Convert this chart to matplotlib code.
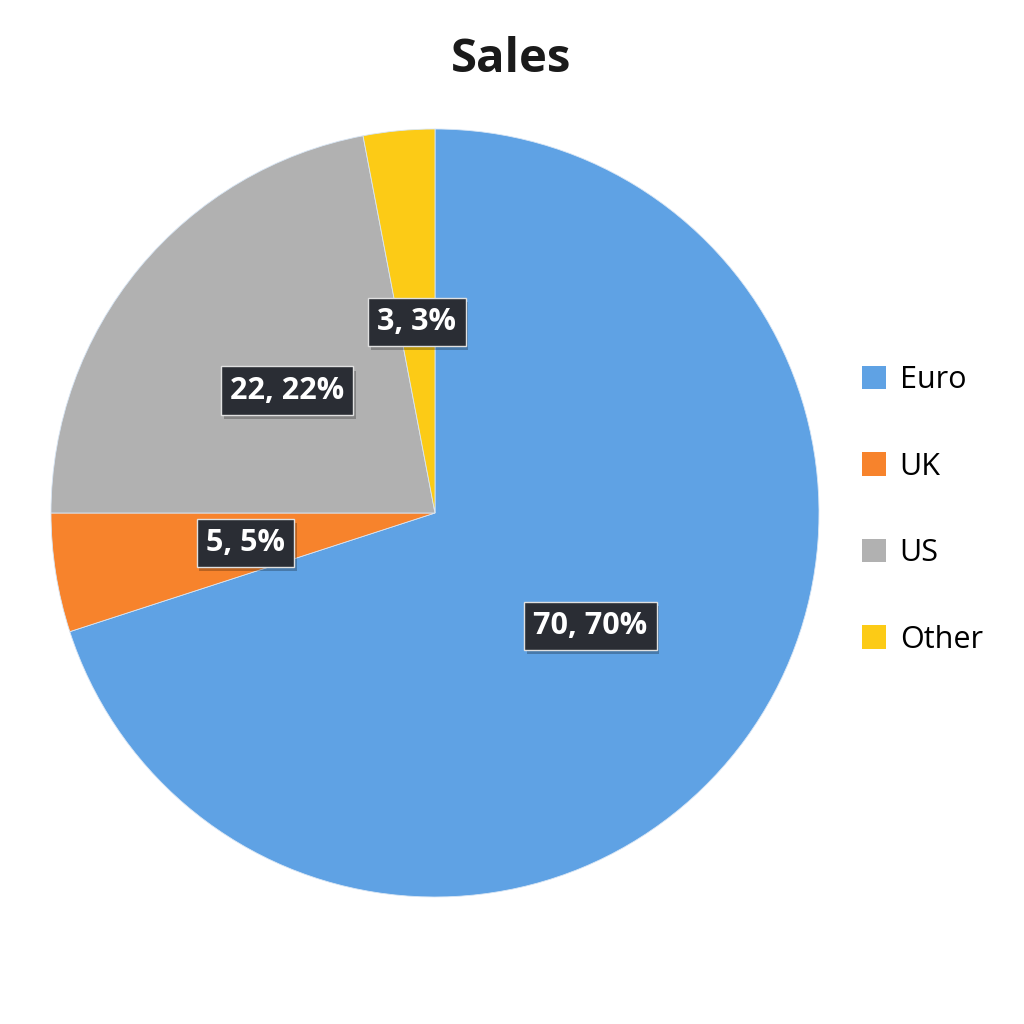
import matplotlib
matplotlib.use("Agg")
import matplotlib.pyplot as plt
from matplotlib.patches import Patch
import matplotlib.patheffects as pe

categories = ["Euro", "UK", "US", "Other"]
values = [70, 5, 22, 3]
colors = ["#5fa2e4", "#f7832c", "#b1b1b1", "#fccb16"]

plt.rcParams['font.family'] = ['Open Sans', 'DejaVu Sans']

fig = plt.figure(figsize=(10.24, 10.24), dpi=100)
fig.patch.set_facecolor("white")

cx, cy, r = 435/1024, 1 - 513/1024, 384/1024
ax = fig.add_axes([cx - r, cy - r, 2*r, 2*r])

total = sum(values)
def fmt(p):
    v = round(p * total / 100)
    return f"{v}, {p:.0f}%"

wedges, texts, autotexts = ax.pie(
    values, colors=colors, startangle=90, counterclock=False,
    autopct=fmt, pctdistance=0.5, radius=1,
    wedgeprops=dict(linewidth=0.6, edgecolor="#d8e6f5"),
    textprops=dict(color="white", fontsize=22, fontweight="bold"))
for t in autotexts:
    t.set_bbox(dict(boxstyle="square,pad=0.3", facecolor="#2a2d34",
                    edgecolor="#e0e0e0", linewidth=1.0))
    t.get_bbox_patch().set_path_effects([
        pe.SimplePatchShadow(offset=(2, -3), shadow_rgbFace="black", alpha=0.25),
        pe.Normal()])
ax.set_xlim(-1, 1)
ax.set_ylim(-1, 1)
ax.set_aspect("equal")
ax.axis("off")

fig.text(0.499, 1 - 59/1024, "Sales", ha="center", va="center",
         fontsize=34, fontweight="bold", color="#1a1a1a")

handles = [Patch(facecolor=c, edgecolor="none", label=l) for c, l in zip(colors, categories)]
leg = fig.legend(handles=handles, loc="center left",
                 bbox_to_anchor=(834/1024, 1 - 510/1024),
                 frameon=False, fontsize=22, labelspacing=1.85,
                 handlelength=0.8, handleheight=0.8, handletextpad=0.45)

fig.savefig("out.png", dpi=100, facecolor="white")
